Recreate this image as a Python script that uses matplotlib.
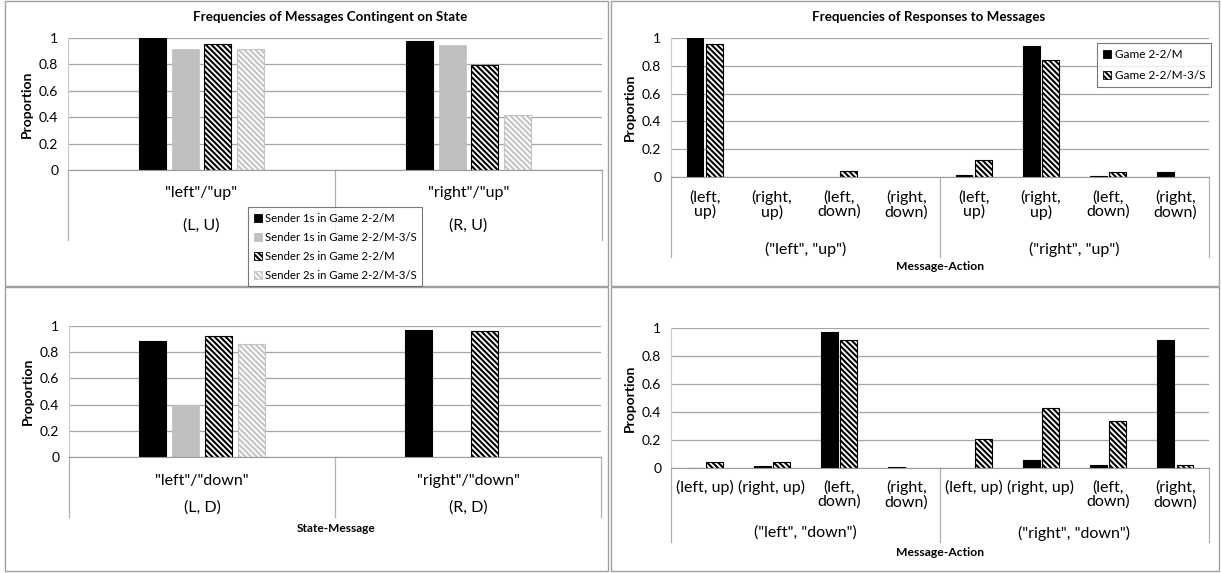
"""Message / response frequency figure (four panels, Excel-style)."""

import matplotlib.pyplot as plt
import matplotlib.transforms as mtransforms
from matplotlib.patches import Patch, Rectangle
import numpy as np

plt.rcParams["font.family"] = ["Lato", "DejaVu Sans"]
plt.rcParams["hatch.linewidth"] = 1.5

# ---- data -------------------------------------------------------------
sender_series = [
    "Sender 1s in Game 2-2/M",
    "Sender 1s in Game 2-2/M-3/S",
    "Sender 2s in Game 2-2/M",
    "Sender 2s in Game 2-2/M-3/S",
]
states_up = ['"left"/"up"', '"right"/"up"']
states_up_codes = ["(L, U)", "(R, U)"]
states_down = ['"left"/"down"', '"right"/"down"']
states_down_codes = ["(L, D)", "(R, D)"]

# rows = sender series, cols = state
msg_up = [
    [1.00, 0.98],
    [0.92, 0.95],
    [0.955, 0.795],
    [0.92, 0.415],
]
msg_down = [
    [0.885, 0.97],
    [0.40, 0.0],
    [0.925, 0.96],
    [0.865, 0.0],
]

game_series = ["Game 2-2/M", "Game 2-2/M-3/S"]
actions_top = ["(left,\nup)", "(right,\nup)", "(left,\ndown)", "(right,\ndown)"]
actions_bottom = ["(left, up)", "(right, up)", "(left,\ndown)", "(right,\ndown)"]
msg_groups_up = ['("left", "up")', '("right", "up")']
msg_groups_down = ['("left", "down")', '("right", "down")']

# rows = game series, cols = message group x action
resp_up = [
    [1.00, 0.0, 0.0, 0.0, 0.015, 0.94, 0.008, 0.033],
    [0.955, 0.0, 0.045, 0.0, 0.12, 0.84, 0.035, 0.0],
]
resp_down = [
    [0.003, 0.012, 0.97, 0.004, 0.0, 0.055, 0.025, 0.915],
    [0.04, 0.045, 0.915, 0.0, 0.21, 0.43, 0.335, 0.025],
]

# ---- styles -----------------------------------------------------------
HATCH = "\\" * 6
STYLES = [
    dict(color="black", edgecolor="black", linewidth=0.8),
    dict(color="#bfbfbf", edgecolor="#bfbfbf", linewidth=0.5),
    dict(color="white", edgecolor="black", hatch=HATCH, linewidth=0.8),
    dict(color="white", edgecolor="#c4c4c4", hatch=HATCH, linewidth=0.8),
]
GAME_STYLES = [STYLES[0], STYLES[2]]
GRID = "#a6a6a6"
LINE = "#9a9a9a"

W, H = 1221, 573
fig = plt.figure(figsize=(W / 100, H / 100), dpi=100)


def px_axes(left, right, top, bottom):
    return fig.add_axes([left / W, 1 - bottom / H, (right - left) / W, (bottom - top) / H])


def below(ax, py):
    """axes-fraction y of a pixel row below the plot."""
    bb = ax.get_position()
    y0 = (1 - bb.y0) * H
    return -(py - y0) / (bb.height * H)


def base_axes(ax, n):
    ax.set_xlim(-0.5, n - 0.5)
    ax.set_ylim(0, 1)
    ax.set_yticks(np.arange(0, 1.01, 0.2))
    ax.set_yticklabels(["0", "0.2", "0.4", "0.6", "0.8", "1"])
    ax.set_xticks([])
    ax.tick_params(axis="y", length=0, pad=7, labelsize=10)
    ax.grid(axis="y", color=GRID, linewidth=0.9)
    ax.set_axisbelow(True)
    for s in ("top", "right"):
        ax.spines[s].set_visible(False)
    ax.spines["left"].set_color("#c8c8c8")
    ax.spines["bottom"].set_color(LINE)
    ax.set_ylabel("Proportion", fontsize=10, fontweight="bold", labelpad=4)


def draw_bars(ax, values, styles, width, step):
    k = len(values)
    x = np.arange(len(values[0]))
    for i, (vals, st) in enumerate(zip(values, styles)):
        off = (i - (k - 1) / 2) * step
        bars = ax.bar(x + off, vals, width, **st)
        for b, v in zip(bars, vals):
            if v <= 0:
                b.set_visible(False)


def separators(ax, xs, py_end):
    tr = mtransforms.blended_transform_factory(ax.transData, ax.transAxes)
    for xv in xs:
        ax.plot([xv, xv], [0, below(ax, py_end)], color="#b0b0b0", lw=0.9,
                transform=tr, clip_on=False)


def cat_labels(ax, xs, labels, py, size, va="center", ls=1.2):
    tr = mtransforms.blended_transform_factory(ax.transData, ax.transAxes)
    for xv, lab in zip(xs, labels):
        ax.text(xv, below(ax, py), lab, transform=tr, ha="center", va=va,
                fontsize=size, multialignment="center", linespacing=ls)


# ---- top-left: messages, "up" -----------------------------------------
ax1 = px_axes(68, 602, 38, 170)
base_axes(ax1, 2)
draw_bars(ax1, msg_up, STYLES, 0.101, 0.1234)
separators(ax1, [-0.5, 0.5, 1.5], 240)
cat_labels(ax1, [0, 1], states_up, 193, 11.5)
cat_labels(ax1, [0, 1], states_up_codes, 226, 11.5)
fig.text(330 / W, 1 - 17 / H, "Frequencies of Messages Contingent on State",
         ha="center", va="center", fontsize=9.6, fontweight="bold")

# ---- bottom-left: messages, "down" ------------------------------------
ax3 = px_axes(69, 601, 326, 457)
base_axes(ax3, 2)
draw_bars(ax3, msg_down, STYLES, 0.101, 0.1234)
separators(ax3, [-0.5, 0.5, 1.5], 517)
cat_labels(ax3, [0, 1], states_down, 481, 11.5)
cat_labels(ax3, [0, 1], states_down_codes, 508, 11.5)
fig.text(336 / W, 1 - 528 / H, "State-Message", ha="center", va="center",
         fontsize=8.6, fontweight="bold")

# ---- top-right: responses, "up" ---------------------------------------
ax2 = px_axes(671, 1209, 38, 177)
base_axes(ax2, 8)
draw_bars(ax2, resp_up, GAME_STYLES, 0.25, 0.285)
separators(ax2, [-0.5, 3.5, 7.5], 257)
cat_labels(ax2, range(8), actions_top * 2, 190, 11.5, va="top", ls=1.0)
cat_labels(ax2, [1.5, 5.5], msg_groups_up, 249, 11.5)
fig.text(940 / W, 1 - 267 / H, "Message-Action", ha="center", va="center",
         fontsize=8.7, fontweight="bold")
fig.text(929 / W, 1 - 17 / H, "Frequencies of Responses to Messages",
         ha="center", va="center", fontsize=9.6, fontweight="bold")

# ---- bottom-right: responses, "down" ----------------------------------
ax4 = px_axes(671, 1209, 328, 468)
base_axes(ax4, 8)
draw_bars(ax4, resp_down, GAME_STYLES, 0.25, 0.285)
separators(ax4, [-0.5, 3.5, 7.5], 542)
cat_labels(ax4, range(8), actions_bottom * 2, 480, 11.5, va="top", ls=1.0)
cat_labels(ax4, [1.5, 5.5], msg_groups_down, 533, 11.5)
fig.text(940 / W, 1 - 553 / H, "Message-Action", ha="center", va="center",
         fontsize=8.7, fontweight="bold")

# ---- panel frames -----------------------------------------------------
for (x0, y0, x1, y1) in [(5, 1, 608, 286), (611, 1, 1219, 286),
                         (5, 287, 608, 571), (611, 287, 1219, 571)]:
    fig.add_artist(Rectangle((x0 / W, 1 - y1 / H), (x1 - x0) / W, (y1 - y0) / H,
                             transform=fig.transFigure, fill=False,
                             edgecolor="#a0a0a0", linewidth=1.0))

# ---- legends ----------------------------------------------------------
handles = [Patch(facecolor=st["color"], edgecolor=st["edgecolor"],
                 hatch=st.get("hatch"), linewidth=0.6, label=lab)
           for st, lab in zip(STYLES, sender_series)]
leg = fig.legend(handles=handles, loc="upper left",
                 bbox_to_anchor=(248 / W, 1 - 207 / H), fontsize=8.2,
                 frameon=True, fancybox=False, edgecolor="#555555",
                 handlelength=0.7, handleheight=0.7, handletextpad=0.3,
                 labelspacing=0.7, borderpad=0.5, borderaxespad=0)
leg.get_frame().set_linewidth(0.8)
leg.set_zorder(10)

handles2 = [Patch(facecolor=st["color"], edgecolor=st["edgecolor"],
                  hatch=st.get("hatch"), linewidth=0.6, label=lab)
            for st, lab in zip(GAME_STYLES, game_series)]
leg2 = ax2.legend(handles=handles2, loc="upper left",
                  bbox_to_anchor=(1097 / W, 1 - 43 / H),
                  bbox_transform=fig.transFigure, fontsize=8.5,
                  frameon=True, fancybox=False, edgecolor="#555555",
                  handlelength=0.7, handleheight=0.7, handletextpad=0.3,
                  labelspacing=0.85, borderpad=0.5, borderaxespad=0)
leg2.get_frame().set_linewidth(0.8)

fig.savefig("out.png", dpi=100)
